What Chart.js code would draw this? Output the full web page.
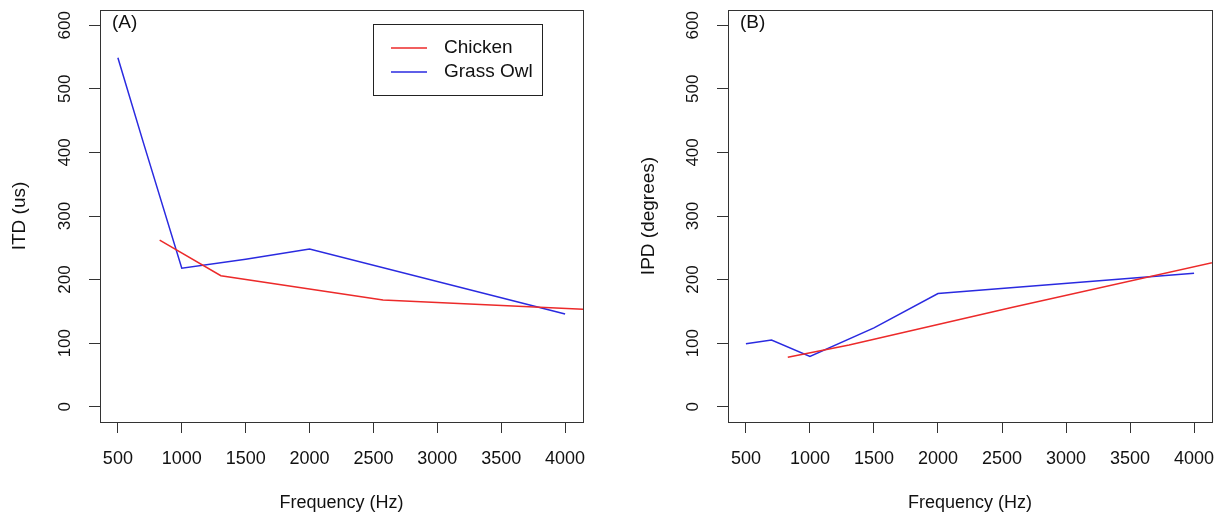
<!DOCTYPE html>
<html>
<head>
<meta charset="utf-8">
<script src="https://cdn.jsdelivr.net/npm/chart.js@4/dist/chart.umd.min.js"></script>
<style>
  html, body { margin: 0; padding: 0; background: #fff; }
  #wrap { position: relative; width: 1230px; height: 517px; }
  canvas { position: absolute; top: 0; }
</style>
</head>
<body>
<div id="wrap">
  <canvas id="panelA" width="615" height="517" style="left:0"></canvas>
  <canvas id="panelB" width="615" height="517" style="left:615px"></canvas>
</div>
<script>
// --- Data ---
const freqTicks = [500, 1000, 1500, 2000, 2500, 3000, 3500, 4000];
const valueTicks = [0, 100, 200, 300, 400, 500, 600];

const chickenFreq = [827, 1306, 2575, 5000];
const chickenItd = [262, 206, 168, 145];
const chickenIpd = [78, 97, 156, 265];

const owlFreq = [500, 700, 1000, 1500, 2000, 4000];
const owlItd = [549, 415, 218, 232, 248, 146];
const owlIpd = [99, 105, 79, 124, 178, 210];

const seriesNames = ["Chicken", "Grass Owl"];
const seriesColors = ["#ec2a2a", "#2a2ae0"];

const FONT = "'Liberation Sans', Arial, Helvetica, sans-serif";

function toPoints(xs, ys) {
  return xs.map((x, i) => ({ x: x, y: ys[i] }));
}

// box around the plot region, like R's box()
const boxPlugin = {
  id: "box",
  afterDraw(chart) {
    const a = chart.chartArea;
    const ctx = chart.ctx;
    ctx.save();
    ctx.strokeStyle = "#333";
    ctx.lineWidth = 1;
    ctx.strokeRect(Math.round(a.left) + 0.5, Math.round(a.top) + 0.5,
      Math.round(a.right - a.left), Math.round(a.bottom - a.top));
    ctx.restore();
  }
};

// panel tag + optional legend drawn inside the plot region
const annotatePlugin = {
  id: "annotate",
  afterDraw(chart, args, opts) {
    const ctx = chart.ctx;
    const a = chart.chartArea;
    ctx.save();
    ctx.fillStyle = "#111";
    ctx.font = "19px " + FONT;
    ctx.textBaseline = "middle";
    ctx.textAlign = "left";
    ctx.fillText(opts.tag, a.left + 12, a.top + 13);

    if (opts.legend) {
      const L = opts.legend;
      ctx.strokeStyle = "#222";
      ctx.lineWidth = 1;
      ctx.strokeRect(L.x + 0.5, L.y + 0.5, L.w, L.h);
      chart.data.datasets.forEach((ds, i) => {
        const y = L.y + 24 + i * 24;
        ctx.strokeStyle = ds.borderColor;
        ctx.lineWidth = 1.5;
        ctx.beginPath();
        ctx.moveTo(L.x + 18, y);
        ctx.lineTo(L.x + 54, y);
        ctx.stroke();
        ctx.fillStyle = "#111";
        ctx.fillText(ds.label, L.x + 71, y);
      });
    }
    ctx.restore();
  }
};

function makePanel(id, chickenVals, owlVals, yTitle, leftW, rightPad, yTitlePad, tag, legend) {
  const ctx = document.getElementById(id);
  return new Chart(ctx, {
    type: "line",
    data: {
      datasets: [
        {
          label: seriesNames[0],
          data: toPoints(chickenFreq, chickenVals),
          borderColor: seriesColors[0],
          borderWidth: 1.5,
          pointRadius: 0,
          tension: 0
        },
        {
          label: seriesNames[1],
          data: toPoints(owlFreq, owlVals),
          borderColor: seriesColors[1],
          borderWidth: 1.5,
          pointRadius: 0,
          tension: 0
        }
      ]
    },
    options: {
      responsive: false,
      animation: false,
      events: [],
      layout: { padding: { top: 10, right: rightPad, left: 0, bottom: 0 } },
      plugins: {
        legend: { display: false },
        tooltip: { enabled: false },
        annotate: { tag: tag, legend: legend }
      },
      scales: {
        x: {
          type: "linear",
          min: 360,
          max: 4140,
          afterBuildTicks: (s) => { s.ticks = freqTicks.map((v) => ({ value: v })); },
          afterFit: (s) => { s.height = 95; s.paddingLeft = 0; s.paddingRight = 0; },
          border: { display: true, color: "#333", width: 1 },
          grid: { drawOnChartArea: false, drawTicks: true, tickLength: 11, color: "#333" },
          ticks: {
            color: "#111",
            font: { family: FONT, size: 18 },
            padding: 15,
            maxRotation: 0,
            autoSkip: false,
            callback: (v) => String(v)
          },
          title: {
            display: true,
            text: "Frequency (Hz)",
            color: "#111",
            font: { family: FONT, size: 18 },
            padding: { top: 3, bottom: 3 }
          }
        },
        y: {
          type: "linear",
          min: -24,
          max: 624,
          afterBuildTicks: (s) => { s.ticks = valueTicks.map((v) => ({ value: v })); },
          afterFit: (s) => { s.width = leftW; s.paddingTop = 0; s.paddingBottom = 0; },
          border: { display: true, color: "#333", width: 1 },
          grid: { drawOnChartArea: false, drawTicks: true, tickLength: 11, color: "#333" },
          ticks: {
            color: "#111",
            font: { family: FONT, size: 17 },
            minRotation: 90,
            maxRotation: 90,
            crossAlign: "center",
            padding: 10,
            autoSkip: false,
            callback: (v) => String(v)
          },
          title: {
            display: true,
            text: yTitle,
            color: "#111",
            font: { family: FONT, size: 19 },
            padding: { top: yTitlePad, bottom: 0 }
          }
        }
      }
    },
    plugins: [boxPlugin, annotatePlugin]
  });
}

document.addEventListener("DOMContentLoaded", () => {
  makePanel("panelA", chickenItd, owlItd, "ITD (us)", 100, 32, 8, "(A)",
    { x: 373, y: 24, w: 169, h: 71 });
  makePanel("panelB", chickenIpd, owlIpd, "IPD (degrees)", 113, 18, 22, "(B)", null);
});
</script>
</body>
</html>
